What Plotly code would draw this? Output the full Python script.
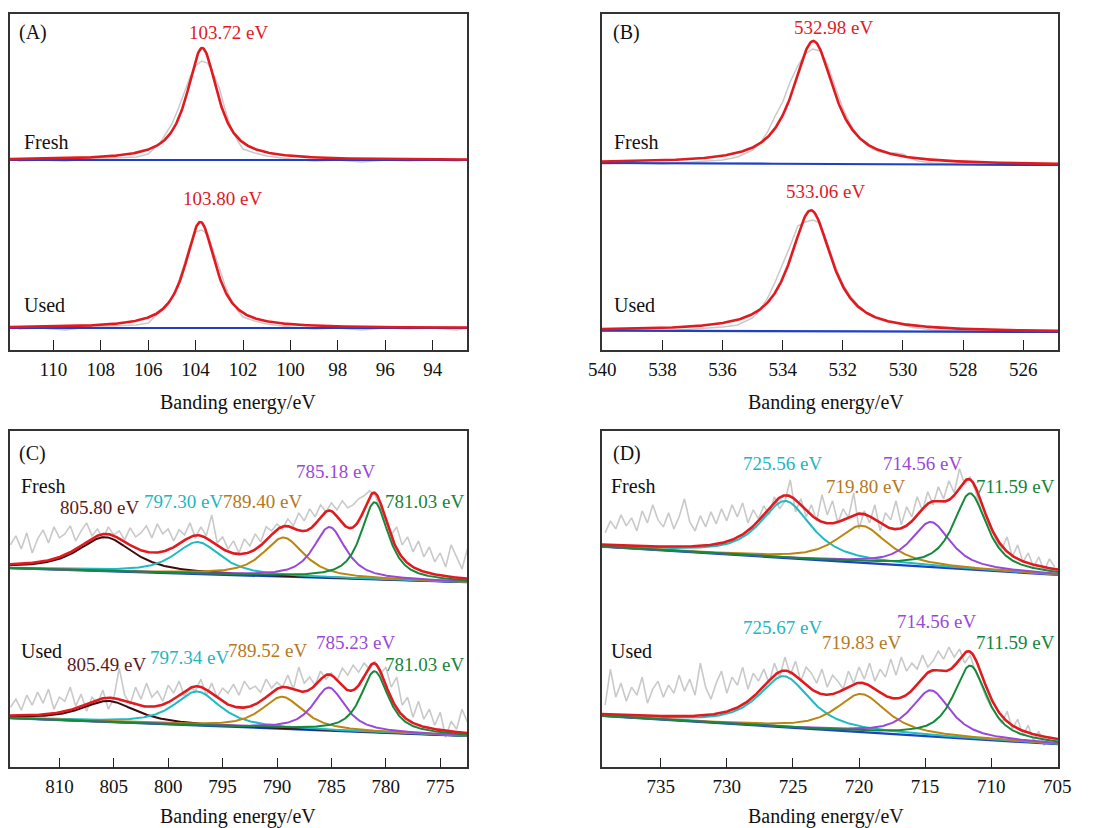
import numpy as np
import plotly.graph_objects as go

W, H = 1099, 828
FONT = "Liberation Serif"

# ---------------- axis settings (eV) ----------------
A_range = [111.83, 92.55]
B_range = [540.02, 524.84]
C_range = [814.54, 772.54]
D_range = [739.46, 704.95]
A_ticks = [110, 108, 106, 104, 102, 100, 98, 96, 94]
B_ticks = [540, 538, 536, 534, 532, 530, 528, 526]
C_ticks = [810, 805, 800, 795, 790, 785, 780, 775]
D_ticks = [735, 730, 725, 720, 715, 710, 705]

# ---------------- panel A : raw (grey) spectra ----------------
A_E = [111.5, 110.5, 109.5, 108.5, 107.5, 106.5, 106.0, 105.5, 105.0, 104.75, 104.5, 104.25,
       104.0, 103.75, 103.5, 103.25, 103.0, 102.75, 102.5, 102.25, 102.0, 101.5, 101.0, 100.0,
       99.0, 98.0, 97.0, 96.0, 95.0, 94.0, 93.0, 92.5]
A_fresh_raw = [189, 190, 189, 191, 192, 193, 196, 207, 226, 240, 256, 272, 284, 289, 287, 276,
               262, 240, 222, 210, 201, 197, 194, 191, 189, 190, 188, 190, 189, 190, 189, 190]
A_used_raw = [21, 22, 20, 23, 24, 25, 27, 38, 52, 66, 84, 104, 118, 120, 116, 100,
              82, 64, 50, 40, 33, 29, 26, 23, 21, 22, 20, 22, 21, 22, 20, 22]
# fit: background (left, right), peak (center, height, fwhm)
A_fresh_bg = [190, 190]
A_fresh_peak = [103.72, 112, 1.55]
A_used_bg = [22, 22]
A_used_peak = [103.80, 106, 1.55]

# ---------------- panel B ----------------
B_E = [540, 539, 538, 537, 536, 535.5, 535, 534.75, 534.5, 534.25, 534.0, 533.75, 533.5, 533.25,
       533.0, 532.75, 532.5, 532.25, 532.0, 531.75, 531.5, 531.25, 531.0, 530.75, 530.5, 530.25,
       530.0, 529.75, 529.5, 529.0, 528.0, 527.0, 526.0, 525.0]
B_fresh_raw = [186, 187, 186, 188, 190, 193, 200, 207, 218, 234, 248, 268, 284, 296, 301, 299, 285,
               263, 242, 226, 214, 206, 201, 198, 197, 197, 196, 192, 189, 187, 186, 185, 185, 185]
B_used_raw = [19, 20, 19, 21, 23, 25, 32, 40, 52, 68, 86, 104, 124, 128, 130, 127, 106,
              84, 66, 54, 45, 38, 33, 30, 28, 27, 25, 23, 22, 20, 19, 18, 18, 18]
B_fresh_bg = [187, 185]
B_fresh_peak = [532.98, 123, 1.66]
B_used_bg = [19.3, 18]
B_used_peak = [533.06, 121, 1.66]

# ---------------- panel C (814.5 -> 772.5 eV, step 0.5) ----------------
C_E_start, C_E_stop, C_E_step = 814.5, 772.5, 0.5
C_fresh_raw = [222, 231, 218, 234, 214, 228, 237, 224, 240, 229, 233, 241, 226, 236, 244,
               231, 238, 228, 240, 232, 236, 227, 239, 230, 234, 241, 229, 243, 233, 238,
               226, 237, 232, 244, 229, 240, 231, 252, 224, 230, 218, 226, 214, 228, 221,
               233, 225, 240, 236, 243, 238, 248, 241, 254, 246, 258, 250, 262, 255, 264,
               257, 266, 259, 262, 268, 271, 276, 272, 258, 246, 232, 240, 222, 230, 215,
               226, 210, 220, 205, 214, 200, 222, 210, 198, 218]
C_used_raw = [60, 68, 57, 72, 62, 75, 64, 78, 58, 70, 66, 80, 61, 73, 56,
              70, 64, 77, 58, 69, 99, 72, 63, 80, 68, 84, 70, 76, 66, 82,
              74, 86, 71, 80, 76, 88, 72, 84, 70, 79, 74, 83, 72, 86, 78,
              81, 75, 88, 79, 85, 80, 92, 78, 100, 84, 90, 82, 96, 88, 94,
              86, 99, 92, 102, 95, 104, 98, 106, 93, 100, 80, 90, 62, 70, 50,
              66, 48, 58, 42, 55, 30, 46, 38, 58, 45]
C_fresh_bg = [198.7, 184.7]          # at left / right edge
C_used_bg = [49.0, 31.3]
C_fresh_centers = [805.80, 797.30, 789.40, 785.18, 781.03]
C_fresh_heights = [34, 32, 39, 51, 77]
C_used_centers = [805.49, 797.34, 789.52, 785.23, 781.03]
C_used_heights = [21, 34, 32, 43, 61]
C_fwhm = [6.0, 5.0, 4.5, 3.5, 3.0]

# ---------------- panel D (739.2 -> 705.2 eV, step 0.4) ----------------
D_E_start, D_E_stop, D_E_step = 739.2, 705.2, 0.4
D_fresh_raw = [234, 246, 238, 252, 241, 249, 236, 256, 244, 262, 247, 240, 254, 238, 250,
               268, 245, 236, 251, 240, 255, 243, 258, 246, 262, 250, 264, 244, 257, 248,
               261, 252, 270, 258, 266, 287, 255, 268, 250, 262, 246, 272, 252, 266, 244,
               258, 249, 274, 238, 256, 244, 262, 236, 254, 247, 266, 242, 260, 250, 270,
               256, 275, 262, 280, 268, 286, 274, 298, 282, 290, 276, 258, 246, 238, 226,
               218, 230, 210, 222, 205, 214, 200, 210, 196, 208, 200]
D_used_raw = [62, 98, 70, 84, 66, 80, 72, 90, 64, 78, 86, 70, 82, 74, 92,
              76, 88, 72, 104, 80, 68, 84, 96, 74, 90, 82, 100, 78, 94, 86,
              98, 84, 104, 90, 110, 92, 106, 86, 100, 94, 84, 98, 80, 92, 86,
              78, 96, 84, 100, 88, 104, 86, 98, 90, 108, 92, 110, 96, 104, 98,
              112, 100, 106, 116, 108, 120, 110, 118, 104, 112, 96, 84, 70, 60, 52,
              44, 56, 38, 48, 32, 42, 26, 36, 22, 30, 28]
D_fresh_bg = [220.3, 192.0]
D_used_bg = [51.3, 23.0]
D_fresh_centers = [725.56, 719.80, 714.56, 711.59]
D_fresh_heights = [57, 37, 45, 76]
D_used_centers = [725.67, 719.83, 714.56, 711.59]
D_used_heights = [51, 38, 46, 73]
D_fwhm = [4.6, 4.5, 3.5, 3.0]

# ---------------- colours ----------------
RED = "#e01a1f"
GREY = "#c9c9c9"
BLUE = "#1f3fc4"
C_colors = ["#3d0b0f", "#1fbac2", "#bb860f", "#9a48d8", "#15893a"]
C_label_colors = ["#5a1a20", "#22b6c0", "#b5781d", "#9a48d8", "#16843a"]
D_colors = ["#1fbac2", "#bb860f", "#9a48d8", "#15893a"]
D_label_colors = ["#22b6c0", "#b5781d", "#9a48d8", "#16843a"]


def pv(E, c, h, w, eta=0.85):
    x = (np.asarray(E) - c) / (w / 2.0)
    return h * (eta / (1 + x ** 2) + (1 - eta) * np.exp(-np.log(2) * x ** 2))


def linbg(E, rng, bg):
    E = np.asarray(E)
    f = (rng[0] - E) / (rng[0] - rng[1])
    return bg[0] + (bg[1] - bg[0]) * f


fig = go.Figure()


def add(x, y, color, width, ax):
    fig.add_trace(go.Scatter(x=x, y=y, mode="lines", line=dict(color=color, width=width),
                             xaxis="x" + ax, yaxis="y" + ax, showlegend=False, hoverinfo="skip"))


# ---- A & B ----
for ax, rng, Eraw, sets in [
    ("", A_range, A_E, [(A_fresh_raw, A_fresh_bg, A_fresh_peak), (A_used_raw, A_used_bg, A_used_peak)]),
    ("2", B_range, B_E, [(B_fresh_raw, B_fresh_bg, B_fresh_peak), (B_used_raw, B_used_bg, B_used_peak)]),
]:
    Ef = np.linspace(rng[0], rng[1], 600)
    for raw, bg, pk in sets:
        add(Eraw, raw, GREY, 1.5, ax)
        b = linbg(Ef, rng, bg)
        add(Ef, b, BLUE, 2.2, ax)
        add(Ef, b + pv(Ef, *pk, eta=0.9), RED, 2.6, ax)

# ---- C & D ----
C_E = np.round(np.arange(C_E_start, C_E_stop - 1e-9, -C_E_step), 2)
D_E = np.round(np.arange(D_E_start, D_E_stop - 1e-9, -D_E_step), 2)

for ax, rng, Eraw, fwhm, cols, sets in [
    ("3", C_range, C_E, C_fwhm, C_colors,
     [(C_fresh_raw, C_fresh_bg, C_fresh_centers, C_fresh_heights),
      (C_used_raw, C_used_bg, C_used_centers, C_used_heights)]),
    ("4", D_range, D_E, D_fwhm, D_colors,
     [(D_fresh_raw, D_fresh_bg, D_fresh_centers, D_fresh_heights),
      (D_used_raw, D_used_bg, D_used_centers, D_used_heights)]),
]:
    Ef = np.linspace(rng[0], rng[1], 700)
    for raw, bg, cs, hs in sets:
        add(list(Eraw), raw, GREY, 1.6, ax)
        b = linbg(Ef, rng, bg)
        add(Ef, b, BLUE, 2.2, ax)
        total = b.copy()
        for c, h, w, col in zip(cs, hs, fwhm, cols):
            comp = pv(Ef, c, h, w, eta=0.8)
            total = total + comp
            add(Ef, b + comp, col, 2.0, ax)
        add(Ef, total, RED, 2.6, ax)

# ---------------- layout ----------------
def xaxis(domain, rng, ticks, anchor):
    return dict(domain=domain, range=rng, anchor=anchor, tickvals=ticks, automargin=False,
                ticktext=[str(t) for t in ticks], ticks="inside", ticklen=10, tickwidth=1.3,
                tickcolor="#222", showline=True, mirror=True, linecolor="#333", linewidth=1.5,
                showgrid=False, zeroline=False, ticklabelstandoff=1,
                tickfont=dict(family=FONT, size=19, color="#111"))


def yaxis(domain, anchor):
    return dict(domain=domain, range=[0, 336], anchor=anchor, showticklabels=False, ticks="",
                automargin=False, showline=True, mirror=True, linecolor="#333", linewidth=1.5,
                showgrid=False, zeroline=False)


xl = [10 / W, 467 / W]
xr = [601.7 / W, 1058 / W]
yt = [1 - 350 / H, 1 - 14 / H]
yb = [1 - 767.3 / H, 1 - 430.7 / H]

annotations = []


def ann(text, px, py, color="#111", size=20, xanchor="center"):
    annotations.append(dict(text=text, x=px / W, y=1 - py / H, xref="paper", yref="paper",
                            xanchor=xanchor, yanchor="middle", showarrow=False,
                            font=dict(family=FONT, size=size, color=color)))


for t, px, py in [("(A)", 17, 33), ("(B)", 611, 33), ("(C)", 17, 453), ("(D)", 611, 453)]:
    ann(t, px, py, xanchor="left")
for t, px, py in [("Fresh", 22, 142), ("Used", 22, 305), ("Fresh", 612, 142), ("Used", 612, 305),
                  ("Fresh", 19, 486), ("Used", 19, 651), ("Fresh", 609, 486), ("Used", 609, 651)]:
    ann(t, px, py, xanchor="left")
for px, py in [(238, 403), (826, 403), (238, 816), (826, 816)]:
    ann("Banding energy/eV", px, py)

ann("103.72 eV", 228, 33, RED, 19)
ann("103.80 eV", 222, 199, RED, 19)
ann("532.98 eV", 833, 27, RED, 19)
ann("533.06 eV", 825, 191, RED, 19)

C_fresh_lab_pos = [(99, 507), (183, 501), (262, 501), (335, 471), (424, 501)]
C_used_lab_pos = [(106, 664), (189, 657), (267, 650), (355, 642), (424, 664)]
for cs, pos in [(C_fresh_centers, C_fresh_lab_pos), (C_used_centers, C_used_lab_pos)]:
    for c, (px, py), col in zip(cs, pos, C_label_colors):
        ann(f"{c:.2f} eV", px, py, col, 19)

D_fresh_lab_pos = [(782, 463), (865, 486), (922, 463), (1015, 486)]
D_used_lab_pos = [(782, 627), (861, 642), (936, 621), (1015, 642)]
for cs, pos in [(D_fresh_centers, D_fresh_lab_pos), (D_used_centers, D_used_lab_pos)]:
    for c, (px, py), col in zip(cs, pos, D_label_colors):
        ann(f"{c:.2f} eV", px, py, col, 19)

fig.update_layout(
    width=W, height=H, margin=dict(l=0, r=0, t=0, b=0, autoexpand=False),
    paper_bgcolor="white", plot_bgcolor="white",
    xaxis=xaxis(xl, A_range, A_ticks, "y"), yaxis=yaxis(yt, "x"),
    xaxis2=xaxis(xr, B_range, B_ticks, "y2"), yaxis2=yaxis(yt, "x2"),
    xaxis3=xaxis(xl, C_range, C_ticks, "y3"), yaxis3=yaxis(yb, "x3"),
    xaxis4=xaxis(xr, D_range, D_ticks, "y4"), yaxis4=yaxis(yb, "x4"),
    annotations=annotations,
)

fig.write_html("out.html")
